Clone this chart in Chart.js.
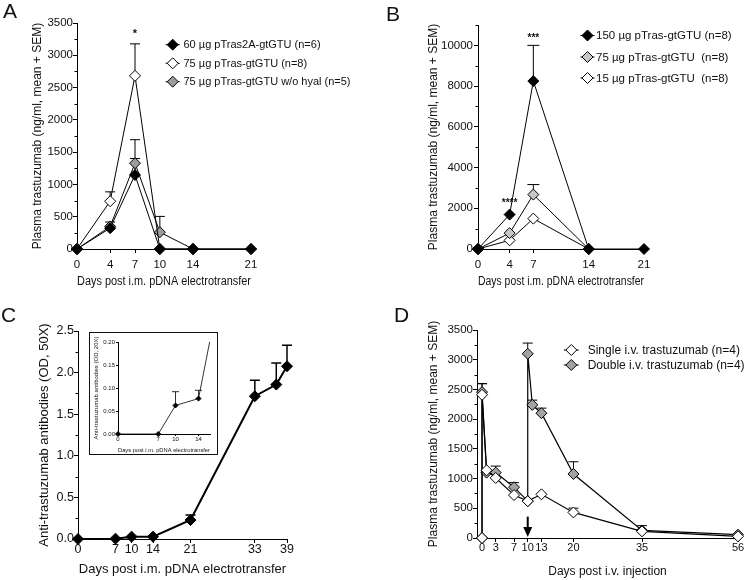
<!DOCTYPE html>
<html>
<head>
<meta charset="utf-8">
<script src="https://cdn.jsdelivr.net/npm/chart.js@4.4.0/dist/chart.umd.min.js"></script>
<style>
  html, body { margin: 0; padding: 0; background: #fff; }
  #fig { position: relative; width: 753px; height: 580px; overflow: hidden; font-family: 'Liberation Sans', Arial, Helvetica, sans-serif; }
  #fig canvas { position: absolute; }
  .tag { position: absolute; font-size: 21px; line-height: 1; color: #111; }
  #insetBox { position: absolute; left: 89px; top: 332px; width: 127px; height: 121px; border: 1px solid #111; background: #fff; }
</style>
</head>
<body>
<div id="fig">
  <canvas id="cA" width="377" height="290" style="left:0;top:0"></canvas>
  <canvas id="cB" width="376" height="290" style="left:377px;top:0"></canvas>
  <canvas id="cC" width="377" height="290" style="left:0;top:290px"></canvas>
  <canvas id="cD" width="376" height="290" style="left:377px;top:290px"></canvas>
  <div id="insetBox"><canvas id="cIn" width="127" height="121" style="left:0;top:0"></canvas></div>
  <div class="tag" style="left:3px;top:0">A</div>
  <div class="tag" style="left:386px;top:3px">B</div>
  <div class="tag" style="left:1px;top:304px">C</div>
  <div class="tag" style="left:394px;top:304px">D</div>
</div>
<script>
Chart.defaults.font.family = "'Liberation Sans', Arial, Helvetica, sans-serif";
Chart.defaults.color = '#111';

// A: plasma trastuzumab after i.m. electrotransfer
const daysA = [0, 4, 7, 10, 14, 21];
const daysA3 = [0, 4, 7, 10, 14];
const meanA1 = [0, 323, 1146, 0, 0, 0];
const semA1 = [0, 95, 255, 0, 0, 0];
const meanA2 = [0, 740, 2682, 0, 0, 0];
const semA2 = [0, 145, 495, 0, 0, 0];
const meanA3 = [0, 349, 1328, 260, 0];
const semA3 = [0, 0, 365, 245, 0];
const xTicksA = [0, 4, 7, 10, 14, 21];
const yTicksA = [0, 500, 1000, 1500, 2000, 2500, 3000, 3500];
const starsA = [[7, 3330, '*']];

// B: dose comparison
const daysB1 = [0, 4, 7, 14, 21];
const daysB = [0, 4, 7, 14];
const meanB1 = [0, 1690, 8246, 0, 0];
const semB1 = [0, 0, 1754, 0, 0];
const meanB2 = [0, 780, 2672, 0];
const semB2 = [0, 0, 492, 0];
const meanB3 = [0, 426, 1492, 0];
const xTicksB = [0, 4, 7, 14, 21];
const yTicksB = [0, 2000, 4000, 6000, 8000, 10000];
const starsB = [[4, 2260, '****'], [7, 10330, '***']];

// C: anti-trastuzumab antibodies
const daysC = [0, 7, 10, 14, 21, 33, 37, 39];
const meanC = [0, 0.004, 0.028, 0.028, 0.228, 1.716, 1.856, 2.076];
const semC = [0, 0, 0, 0.01, 0.06, 0.192, 0.26, 0.252];
const xTicksC = [0, 7, 10, 14, 21, 33, 39];
const yTicksC = [0, 0.5, 1.0, 1.5, 2.0, 2.5];

// C inset (20X)
const daysIn = [0, 7, 10, 14, 21];
const meanIn = [0, 0, 0.062, 0.077, 0.52];
const semIn = [0, 0, 0.03, 0.018, 0];
const xTicksIn = [0, 7, 10, 14];
const yTicksIn = [0, 0.05, 0.10, 0.15, 0.20];

// D: i.v. injection
const daysD1 = [0, 0, 1, 3, 7, 10, 13, 20, 35, 56];
const meanD1 = [0, 2410, 1140, 1010, 722, 620, 735, 430, 112, 28];
const semD1 = [0, 190, 0, 0, 0, 0, 0, 72, 0, 0];
const daysD2 = [0, 0, 1, 3, 7, 10, 10, 11, 13, 20, 35, 56];
const meanD2 = [0, 2455, 1100, 1100, 855, 620, 3100, 2240, 2100, 1077, 128, 56];
const semD2 = [0, 140, 0, 110, 77, 0, 180, 80, 85, 206, 80, 0];
const xTicksD = [0, 3, 7, 10, 13, 20, 35, 56];
const yTicksD = [0, 500, 1000, 1500, 2000, 2500, 3000, 3500];
const arrowD = [10, 360];

function diamond(ctx, x, y, r, fill) {
  ctx.beginPath();
  ctx.moveTo(x, y - r); ctx.lineTo(x + r, y); ctx.lineTo(x, y + r); ctx.lineTo(x - r, y);
  ctx.closePath();
  ctx.fillStyle = fill; ctx.fill();
  ctx.lineWidth = 1; ctx.strokeStyle = '#000'; ctx.stroke();
}

const panelPlugin = {
  id: 'panel',
  beforeDatasetsDraw(chart, args, o) {
    const ctx = chart.ctx, xs = chart.scales.x, ys = chart.scales.y;
    ctx.save();
    ctx.strokeStyle = '#000';
    ctx.lineWidth = o.errW || 1;
    chart.data.datasets.forEach(ds => {
      if (!ds.sem) return;
      ds.data.forEach((p, j) => {
        const e = ds.sem[j];
        if (!e) return;
        const px = xs.getPixelForValue(p.x);
        const y0 = ys.getPixelForValue(p.y), y1 = ys.getPixelForValue(p.y + e);
        ctx.beginPath();
        ctx.moveTo(px, y0); ctx.lineTo(px, y1);
        ctx.moveTo(px - o.cap, y1); ctx.lineTo(px + o.cap, y1);
        ctx.stroke();
      });
    });
    ctx.restore();
  },
  afterDraw(chart, args, o) {
    const ctx = chart.ctx, xs = chart.scales.x, ys = chart.scales.y;
    ctx.save();
    // minor ticks on y axis
    if (o.minor) {
      const n = Math.round((ys.max - ys.min) / o.minor);
      const majors = ys.ticks.map(t => t.value);
      ctx.strokeStyle = '#000'; ctx.lineWidth = 1;
      for (let i = 0; i <= n; i++) {
        const v = ys.min + i * o.minor;
        if (majors.some(m => Math.abs(m - v) < o.minor / 10)) continue;
        const py = Math.round(ys.getPixelForValue(v)) + 0.5;
        ctx.beginPath(); ctx.moveTo(ys.right - o.minorLen, py); ctx.lineTo(ys.right, py); ctx.stroke();
      }
    }
    // legend
    if (o.legend) {
      const L = o.legend;
      ctx.font = L.size + "px 'Liberation Sans', Arial, sans-serif";
      ctx.textBaseline = 'middle'; ctx.textAlign = 'left';
      chart.data.datasets.forEach((ds, i) => {
        const y = L.ys[i];
        ctx.strokeStyle = '#000'; ctx.lineWidth = 1;
        ctx.beginPath(); ctx.moveTo(L.x - L.half, y); ctx.lineTo(L.x + L.half, y); ctx.stroke();
        diamond(ctx, L.x, y, L.r, ds.pointBackgroundColor);
        ctx.fillStyle = '#111';
        ctx.fillText(ds.label, L.textX, y + 0.5);
      });
    }
    // significance stars
    if (o.stars) {
      ctx.font = "bold " + o.starSize + "px 'Liberation Sans', Arial, sans-serif";
      ctx.textAlign = 'center'; ctx.textBaseline = 'middle'; ctx.fillStyle = '#111';
      o.stars.forEach(s => ctx.fillText(s[2], xs.getPixelForValue(s[0]), ys.getPixelForValue(s[1])));
    }
    // arrow marking second injection
    if (o.arrow) {
      const px = xs.getPixelForValue(o.arrow[0]);
      const top = ys.getPixelForValue(o.arrow[1]), tip = ys.getPixelForValue(0) - 1;
      ctx.strokeStyle = '#000'; ctx.fillStyle = '#000'; ctx.lineWidth = 2;
      ctx.beginPath(); ctx.moveTo(px, top); ctx.lineTo(px, tip - 8); ctx.stroke();
      ctx.beginPath(); ctx.moveTo(px - 4.5, tip - 10); ctx.lineTo(px + 4.5, tip - 10); ctx.lineTo(px, tip); ctx.closePath(); ctx.fill();
    }
    ctx.restore();
  }
};

function series(label, days, vals, sem, fill) {
  return { label, days, vals, sem, fill };
}

function panelChart(id, p) {
  const datasets = p.series.map(s => ({
    label: s.label,
    data: s.days.map((d, i) => ({ x: d, y: s.vals[i] })),
    sem: s.sem,
    borderColor: '#000', borderWidth: p.lineW,
    pointStyle: 'rectRot', pointRadius: p.r, pointHoverRadius: p.r,
    pointBackgroundColor: s.fill, pointBorderColor: '#000', pointBorderWidth: 1,
    backgroundColor: s.fill, tension: 0,
    clip: p.clip === undefined ? false : p.clip
  }));
  const gridOpt = { drawOnChartArea: false, color: '#000', tickLength: p.tick, lineWidth: 1 };
  return new Chart(document.getElementById(id), {
    type: 'line',
    data: { datasets },
    options: {
      responsive: false, animation: false, devicePixelRatio: 1,
      layout: { padding: p.pad },
      plugins: { legend: { display: false }, tooltip: { enabled: false }, panel: p.panel },
      scales: {
        x: {
          type: 'linear', min: p.xMin, max: p.xMax,
          afterBuildTicks: s => { s.ticks = p.xTicks.map(v => ({ value: v })); },
          afterFit: s => { s.height = p.xH; },
          grid: gridOpt, border: { color: '#000', width: 1 },
          ticks: { autoSkip: false, maxRotation: 0, padding: p.xPad, color: '#111',
                   font: { size: p.tickSize, lineHeight: 1 }, callback: v => String(v) },
          title: { display: true, text: p.xTitle, color: '#111',
                   font: { size: p.titleSize, lineHeight: 1.2 }, padding: { top: 0, bottom: p.xTitlePad } }
        },
        y: {
          type: 'linear', min: p.yMin, max: p.yMax,
          afterBuildTicks: s => { s.ticks = p.yTicks.map(v => ({ value: v })); },
          afterFit: s => { s.width = p.yW; },
          grid: gridOpt, border: { color: '#000', width: 1 },
          ticks: { padding: p.yPad, color: '#111', font: { size: p.yTickSize || p.tickSize }, callback: p.yFmt || (v => String(v)) },
          title: { display: true, text: p.yTitle, color: '#111',
                   font: { size: p.titleSize, lineHeight: 1.2 }, padding: { top: p.yTitlePad, bottom: 0 } }
        }
      }
    },
    plugins: [panelPlugin]
  });
}

const yTitlePlasma = 'Plasma trastuzumab (ng/ml, mean + SEM)';
const xTitleIM = 'Days post i.m. pDNA electrotransfer';

panelChart('cA', {
  series: [
    series('60 µg pTras2A-gtGTU (n=6)', daysA, meanA1, semA1, '#000'),
    series('75 µg pTras-gtGTU (n=8)', daysA, meanA2, semA2, '#fff'),
    series('75 µg pTras-gtGTU w/o hyal (n=5)', daysA3, meanA3, semA3, '#9c9c9c')
  ],
  pad: { top: 23, right: 126, left: 0, bottom: 0 }, yW: 77, xH: 41,
  xMin: 0, xMax: 21, yMin: 0, yMax: 3500, xTicks: xTicksA, yTicks: yTicksA,
  tick: 4, tickSize: 11.5, titleSize: 12, xPad: 6, yPad: 0, xTitlePad: 1.5, yTitlePad: 30.5,
  r: 5.5, lineW: 1, xTitle: xTitleIM, yTitle: yTitlePlasma,
  panel: { cap: 5, minor: 250, minorLen: 2.5, starSize: 11, stars: starsA,
           legend: { x: 172.7, ys: [44.7, 63.3, 81.7], half: 7, textX: 183.5, size: 11, r: 5.5 } }
});

panelChart('cB', {
  series: [
    series('150 µg pTras-gtGTU (n=8)', daysB1, meanB1, semB1, '#000'),
    series('75 µg pTras-gtGTU  (n=8)', daysB, meanB2, semB2, '#c6c6c6'),
    series('15 µg pTras-gtGTU  (n=8)', daysB, meanB3, null, '#fff')
  ],
  pad: { top: 25, right: 109, left: 0, bottom: 0 }, yW: 101, xH: 41,
  xMin: 0, xMax: 21, yMin: 0, yMax: 11000, xTicks: xTicksB, yTicks: yTicksB,
  tick: 4, tickSize: 11.5, titleSize: 12, xPad: 6, yPad: 1, xTitlePad: 1, yTitlePad: 49.5,
  r: 5.5, lineW: 1, xTitle: xTitleIM, yTitle: yTitlePlasma,
  panel: { cap: 6, minor: 1000, minorLen: 2.5, starSize: 10, stars: starsB,
           legend: { x: 210.5, ys: [35.5, 57, 78], half: 7, textX: 219, size: 11.5, r: 5.5 } }
});

panelChart('cC', {
  series: [series('Anti-trastuzumab', daysC, meanC, semC, '#000')],
  pad: { top: 41, right: 90, left: 0, bottom: 0 }, yW: 78, xH: 41,
  xMin: 0, xMax: 39, yMin: 0, yMax: 2.5, xTicks: xTicksC, yTicks: yTicksC,
  tick: 4, tickSize: 12.5, titleSize: 13, xPad: 0, yPad: 0, xTitlePad: 3, yTitlePad: 37,
  r: 5.5, lineW: 2, xTitle: xTitleIM, yTitle: 'Anti-trastuzumab antibodies (OD, 50X)',
  yFmt: v => v.toFixed(1),
  panel: { cap: 5, errW: 1.5, minor: 0.25, minorLen: 2.5 }
});

panelChart('cIn', {
  series: [series('Inset', daysIn, meanIn, semIn, '#000')],
  pad: { top: 9, right: 7, left: 0, bottom: 0 }, yW: 28, xH: 20,
  xMin: 0, xMax: 16, yMin: 0, yMax: 0.2, xTicks: xTicksIn, yTicks: yTicksIn,
  tick: 2, tickSize: 6, titleSize: 6, xPad: 0, yPad: 1, xTitlePad: 0, yTitlePad: 3,
  r: 2.5, lineW: 0.8, xTitle: xTitleIM, yTitle: 'Anti-trastuzumab antibodies (OD, 20X)',
  yFmt: v => v.toFixed(2),
  clip: { left: false, top: 0, right: 0, bottom: false },
  panel: { cap: 3.5, errW: 0.8 }
});

panelChart('cD', {
  series: [
    series('Single i.v. trastuzumab (n=4)', daysD1, meanD1, semD1, '#fff'),
    series('Double i.v. trastuzumab (n=4)', daysD2, meanD2, semD2, '#a2a2a2')
  ],
  pad: { top: 40, right: 15, left: 0, bottom: 0 }, yW: 100, xH: 42,
  xMin: -1.1, xMax: 56, yMin: 0, yMax: 3500, xTicks: xTicksD, yTicks: yTicksD,
  tick: 4, tickSize: 11, yTickSize: 11.5, titleSize: 12, xPad: 0, yPad: 0, xTitlePad: 1, yTitlePad: 49,
  r: 5.5, lineW: 1.2, xTitle: 'Days post i.v. injection', yTitle: yTitlePlasma,
  panel: { cap: 5, minor: 250, minorLen: 2.5, arrow: arrowD,
           legend: { x: 194.3, ys: [60, 75], half: 7.5, textX: 210.7, size: 12, r: 5.5 } }
});
</script>
</body>
</html>
